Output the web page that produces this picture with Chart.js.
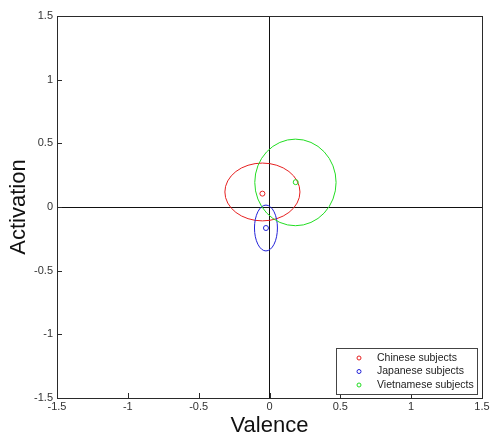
<!DOCTYPE html>
<html>
<head>
<meta charset="utf-8">
<script src="https://cdn.jsdelivr.net/npm/chart.js@4/dist/chart.umd.min.js"></script>
<style>
  html, body { margin: 0; padding: 0; background: #fff; }
  #wrap { width: 490px; height: 437px; }
</style>
</head>
<body>
<div id="wrap"><canvas id="emotionChart"></canvas></div>
<script>
// group means and spread on the valence / activation plane
const groups = ['Chinese subjects', 'Japanese subjects', 'Vietnamese subjects'];
const groupColors = ['#e62020', '#2222d8', '#22dd22'];
const meanValence = [-0.05, -0.025, 0.185];
const meanActivation = [0.105, -0.165, 0.195];
const ellipseValence = [-0.05, -0.025, 0.183];
const ellipseActivation = [0.118, -0.165, 0.193];
const spreadValence = [0.265, 0.081, 0.287];
const spreadActivation = [0.227, 0.18, 0.34];
const tickValues = [-1.5, -1, -0.5, 0, 0.5, 1, 1.5];
const tickLabels = ['-1.5', '-1', '-0.5', '0', '0.5', '1', '1.5'];

const labelFont = { family: 'Liberation Sans, Arial, sans-serif', size: 11 };
const titleFont = { family: 'Liberation Sans, Arial, sans-serif', size: 22, lineHeight: 1 };

// ellipse outlines, axis box, inner tick marks and legend box
const framePlugin = {
    id: 'frame',
    beforeDatasetsDraw(chart) {
        const { ctx, scales: { x, y } } = chart;
        ctx.save();
        ctx.lineWidth = 1;
        groups.forEach((g, i) => {
            const cx = x.getPixelForValue(ellipseValence[i]);
            const cy = y.getPixelForValue(ellipseActivation[i]);
            const rx = Math.abs(x.getPixelForValue(ellipseValence[i] + spreadValence[i]) - cx);
            const ry = Math.abs(y.getPixelForValue(ellipseActivation[i] + spreadActivation[i]) - cy);
            ctx.strokeStyle = groupColors[i];
            ctx.beginPath();
            ctx.ellipse(cx, cy, rx, ry, 0, 0, Math.PI * 2);
            ctx.stroke();
        });
        ctx.restore();
    },
    afterDraw(chart) {
        const { ctx, chartArea: a, scales: { x, y } } = chart;
        ctx.save();
        ctx.strokeStyle = '#2a2a2a';
        ctx.lineWidth = 1;
        ctx.strokeRect(Math.round(a.left) + 0.5, Math.round(a.top) + 0.5,
            Math.round(a.right - a.left), Math.round(a.bottom - a.top));

        ctx.beginPath();
        tickValues.forEach(v => {
            const px = Math.round(x.getPixelForValue(v)) + 0.5;
            ctx.moveTo(px, a.bottom);
            ctx.lineTo(px, a.bottom - 5);
            const py = Math.round(y.getPixelForValue(v)) + 0.5;
            ctx.moveTo(a.left, py);
            ctx.lineTo(a.left + 5, py);
        });
        ctx.stroke();

        // legend
        const w = 141, h = 46;
        const left = Math.round(a.right) - 5 - w;
        const top = Math.round(a.bottom) - 4 - h;
        ctx.fillStyle = '#fff';
        ctx.fillRect(left, top, w, h);
        ctx.strokeStyle = '#444';
        ctx.strokeRect(left + 0.5, top + 0.5, w, h);
        ctx.font = '10.5px ' + labelFont.family;
        ctx.textBaseline = 'middle';
        groups.forEach((g, i) => {
            const rowY = top + 10 + i * 13.5;
            ctx.strokeStyle = groupColors[i];
            ctx.beginPath();
            ctx.arc(left + 23, rowY, 2, 0, Math.PI * 2);
            ctx.stroke();
            ctx.fillStyle = '#222';
            ctx.fillText(g, left + 41, rowY);
        });
        ctx.restore();
    }
};

const ctx = document.getElementById('emotionChart').getContext('2d');
const chart = new Chart(ctx, {
    type: 'scatter',
    data: {
        datasets: groups.map((g, i) => ({
            label: g,
            data: [{ x: meanValence[i], y: meanActivation[i] }],
            borderColor: groupColors[i],
            backgroundColor: 'rgba(0,0,0,0)',
            pointRadius: 2.5,
            pointBorderWidth: 1
        }))
    },
    options: {
        responsive: true,
        maintainAspectRatio: false,
        animation: false,
        layout: { padding: { left: 0, right: 8, top: 16, bottom: 0 } },
        plugins: { legend: { display: false }, tooltip: { enabled: false } },
        scales: {
            x: {
                type: 'linear',
                min: -1.5, max: 1.5,
                afterBuildTicks: s => { s.ticks = tickValues.map(v => ({ value: v })); },
                afterFit: s => { s.height = 39; s.paddingLeft = 0; s.paddingRight = 0; },
                ticks: {
                    callback: v => tickLabels[tickValues.indexOf(v)],
                    font: labelFont, color: '#333', padding: 2, maxRotation: 0
                },
                grid: {
                    drawTicks: false,
                    color: c => (c.tick && c.tick.value === 0 ? '#111' : 'rgba(0,0,0,0)')
                },
                border: { display: false },
                title: { display: true, text: 'Valence', font: titleFont, color: '#111', padding: { top: 0, bottom: 0 } }
            },
            y: {
                type: 'linear',
                min: -1.5, max: 1.5,
                afterBuildTicks: s => { s.ticks = tickValues.map(v => ({ value: v })); },
                afterFit: s => { s.width = 57; s.paddingTop = 0; s.paddingBottom = 0; },
                ticks: {
                    callback: v => tickLabels[tickValues.indexOf(v)],
                    font: labelFont, color: '#333', padding: 4
                },
                grid: {
                    drawTicks: false,
                    color: c => (c.tick && c.tick.value === 0 ? '#111' : 'rgba(0,0,0,0)')
                },
                border: { display: false },
                title: { display: true, text: 'Activation', font: titleFont, color: '#111', padding: { top: 8, bottom: 0 } }
            }
        }
    },
    plugins: [framePlugin]
});
</script>
</body>
</html>
